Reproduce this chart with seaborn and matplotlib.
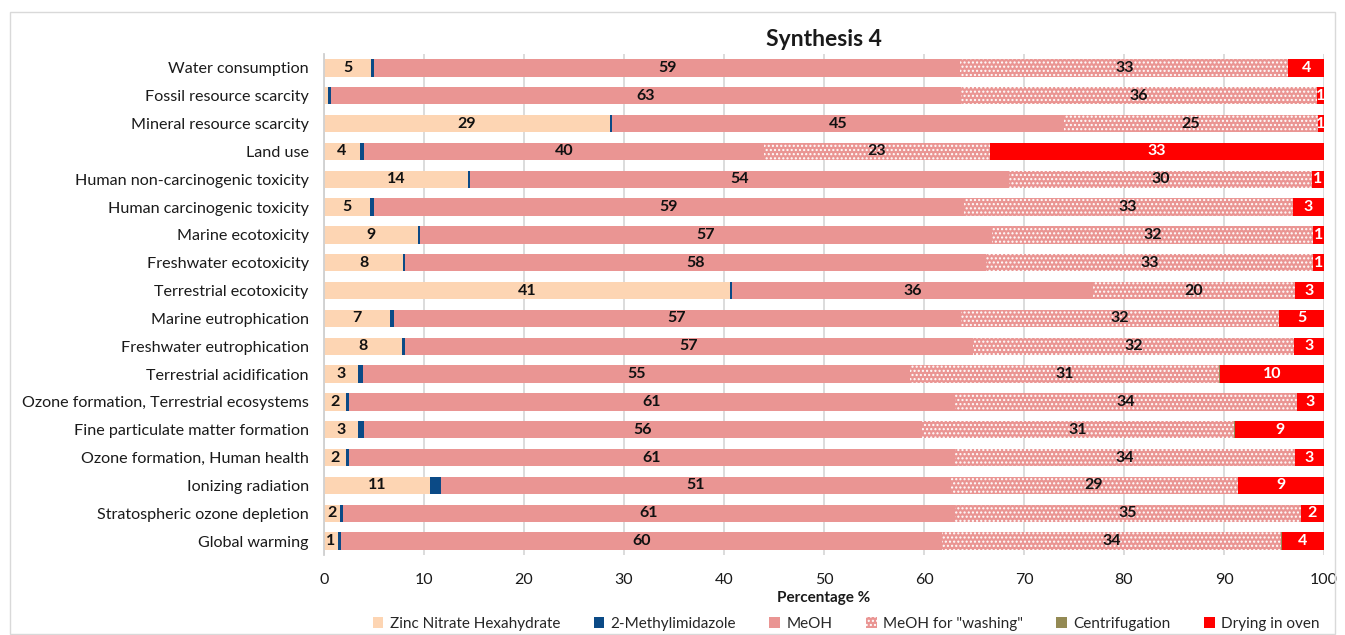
import numpy as np
import matplotlib
matplotlib.use("Agg")
import matplotlib.pyplot as plt
from matplotlib.patches import Patch, Rectangle
import seaborn as sns

# Impact categories (top to bottom) and the contribution of each process step (%)
categories = [
    "Water consumption", "Fossil resource scarcity", "Mineral resource scarcity",
    "Land use", "Human non-carcinogenic toxicity", "Human carcinogenic toxicity",
    "Marine ecotoxicity", "Freshwater ecotoxicity", "Terrestrial ecotoxicity",
    "Marine eutrophication", "Freshwater eutrophication", "Terrestrial acidification",
    "Ozone formation, Terrestrial ecosystems", "Fine particulate matter formation",
    "Ozone formation, Human health", "Ionizing radiation",
    "Stratospheric ozone depletion", "Global warming",
]
zinc_nitrate = [4.7, 0.4, 28.6, 3.6, 14.4, 4.55, 9.4, 7.9, 40.6, 6.6, 7.8, 3.4, 2.2, 3.4, 2.2, 10.6, 1.6, 1.4]
methylimidazole = [0.33, 0.3, 0.2, 0.4, 0.2, 0.4, 0.2, 0.2, 0.2, 0.35, 0.3, 0.5, 0.3, 0.55, 0.3, 1.05, 0.3, 0.3]
meoh = [58.6, 63.0, 45.2, 40.0, 53.9, 59.0, 57.2, 58.1, 36.1, 56.7, 56.8, 54.7, 60.6, 55.8, 60.6, 51.0, 61.2, 60.1]
meoh_washing = [32.8, 35.6, 25.4, 22.6, 30.3, 32.9, 32.1, 32.7, 20.2, 31.8, 32.1, 30.9, 34.2, 31.2, 34.0, 28.7, 34.6, 33.9]
centrifugation = [0, 0, 0, 0, 0, 0, 0, 0, 0, 0, 0, 0.1, 0, 0.1, 0, 0, 0, 0.1]
drying_oven = [3.6, 0.7, 0.6, 33.4, 1.2, 3.2, 1.1, 1.1, 2.9, 4.6, 3.0, 10.4, 2.7, 9.0, 2.9, 8.7, 2.3, 4.2]

series_names = ["Zinc Nitrate Hexahydrate", "2-Methylimidazole", "MeOH",
                'MeOH for "washing"', "Centrifugation", "Drying in oven"]
series_colors = ["#FDD5B3", "#0B4A86", "#EA9593", "#EA9593", "#948A54", "#FF0000"]
series_hatch = [None, None, None, "....", None, None]
label_colors = ["#111111", None, "#111111", "#111111", None, "white"]

sns.set_theme(style="white")
plt.rcParams["font.family"] = ["Lato", "DejaVu Sans"]
plt.rcParams["hatch.linewidth"] = 1.0

layers = np.array([zinc_nitrate, methylimidazole, meoh, meoh_washing,
                   centrifugation, drying_oven], dtype=float)
cum = np.cumsum(layers, axis=0)

fig = plt.figure(figsize=(13.45, 6.35), dpi=100)
ax = fig.add_axes([324 / 1345, 1 - 555 / 635, 1000 / 1345, 501 / 635])

# Stacked bars: draw cumulative totals from the outermost segment inwards
for i in reversed(range(len(series_names))):
    kw = dict(linewidth=0)
    if series_hatch[i]:
        kw.update(hatch=series_hatch[i], edgecolor="white")
    sns.barplot(x=cum[i], y=categories, orient="h", color=series_colors[i],
                saturation=1, width=0.62, ax=ax, **kw)

# Value labels centred in each labelled segment
for r in range(len(categories)):
    for i, col in enumerate(label_colors):
        v = layers[i, r]
        if col is None or v < 0.5:
            continue
        ax.text(cum[i, r] - v / 2, r, f"{v:.0f}", ha="center", va="center",
                fontsize=11.5, fontweight="bold", color=col)

ax.set_xlim(0, 100)
ax.set_xticks(range(0, 101, 10))
ax.xaxis.grid(True, color="#d9d9d9", linewidth=1.3)
ax.yaxis.grid(False)
ax.set_axisbelow(True)
for s in ["top", "right", "bottom"]:
    ax.spines[s].set_visible(False)
ax.spines["left"].set_color("#d0d0d0")
ax.spines["left"].set_linewidth(1.3)
ax.tick_params(axis="x", length=0, labelsize=11.5, colors="#1a1a1a", pad=13)
ax.tick_params(axis="y", length=0, labelsize=11.6, colors="#1a1a1a", pad=11)
ax.set_ylabel("")
ax.set_xlabel("Percentage %", fontsize=11, fontweight="bold", color="#1a1a1a", labelpad=3)
ax.set_title("Synthesis 4", fontsize=16.5, fontweight="bold", color="#1a1a1a", pad=6)

handles = [Patch(facecolor=c, edgecolor="white" if h else c, hatch=h, linewidth=0)
           for c, h in zip(series_colors, series_hatch)]
fig.legend(handles, series_names, loc="center", ncol=6, frameon=False,
           bbox_to_anchor=(846 / 1345, 1 - 624 / 635), fontsize=11,
           handlelength=0.7, handleheight=0.7, handletextpad=0.4, columnspacing=2.2)

fig.add_artist(Rectangle((10 / 1345, 1 / 635), 1325 / 1345, 622 / 635,
                         transform=fig.transFigure, fill=False,
                         edgecolor="#d9d9d9", linewidth=1))

fig.savefig("out.png", dpi=100)
